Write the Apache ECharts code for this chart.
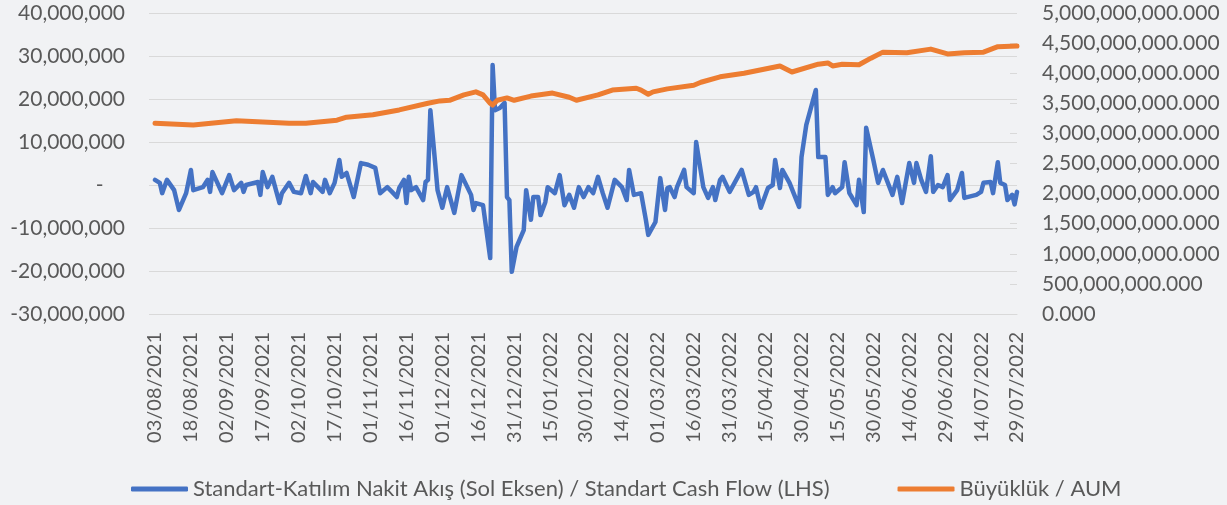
<!DOCTYPE html>
<html lang="tr">
<head>
    <meta charset="UTF-8">
    <title>Standart Nakit Akış / AUM</title>
    <style>
        html, body { margin: 0; padding: 0; background: #f1f2f4; }
    </style>
</head>
<body>

    <script src="https://cdn.jsdelivr.net/npm/echarts@6/dist/echarts.min.js"></script>

    <div id="main" style="width: 1227px;height:505px;"></div>

    <script>
        // eksen başlangıcı ve gün sayısı
        var startDate = new Date(2021, 7, 3);
        var dayCount = 361;

        // nakit akış: gün (başlangıçtan itibaren) ve değer (milyon)
        var flowDay = [0, 2, 3, 5, 8, 10, 13, 15, 16, 20, 22, 23, 24, 28, 31, 33, 36, 37, 38, 43, 44, 45, 47, 49, 52, 53, 56, 58,
            61, 63, 65, 66, 70, 71, 73, 75, 77, 78, 80, 83, 86, 89, 92, 94, 97, 99, 101, 102, 104, 105, 106, 107, 109, 112, 113, 114, 115, 117,
            118, 120, 122, 125, 128, 132, 133, 134, 137, 140, 141, 142, 144, 146, 147, 148, 149, 151, 154, 155, 157, 158, 160, 161, 163, 164, 167, 169, 171, 173, 175, 177,
            179, 181, 183, 185, 187, 189, 192, 195, 197, 198, 200, 203, 205, 206, 209, 211, 213, 214, 215, 217, 218, 221, 222, 225, 226, 229, 231, 233, 234, 236,
            237, 240, 245, 248, 250, 251, 253, 256, 258, 259, 261, 262, 265, 267, 269, 270, 272, 276, 277, 280, 281, 283, 284, 287, 288,
            290, 291, 293, 294, 296, 297, 300, 302, 304, 308, 310, 312, 315, 317, 318, 320, 322, 324, 325, 327, 329, 331, 332, 335, 337, 338,
            343, 345, 346, 349, 350, 352, 353, 355, 356, 358, 359, 360];
        var flowMillion = [1.2, 0.5, -1.9, 1.2, -1.2, -5.8, -1.9, 3.5, -1.2, -0.5, 1.2, -1.6, 3.0, -1.9, 2.3, -1.2, 0.5, -1.6, 0, 0.7, -2.3, 3.0, -0.5, 1.9, -4.2, -1.9, 0.5, -1.6,
            -1.9, 2.1, -1.9, 0.7, -1.6, 1.2, -1.9, 0.5, 5.8, 1.9, 2.8, -2.8, 5.1, 4.7, 4.0, -1.9, -0.5, -1.6, -2.8, -0.7, 1.2, -4.2, 1.9, -1.2, -0.5, -3.5, 0.7, 1.2, 17.4, 5.1,
            -1.2, -5.3, -0.5, -6.5, 2.3, -2.3, -5.8, -4.2, -4.7, -17.0, 27.9, 17.4, 17.9, 19.1, -2.8, -3.5, -20.2, -14.4, -10.5, -1.2, -8.1, -2.8, -2.8, -7.0, -4.0, -0.5, -1.9, 2.3, -4.7, -2.3, -5.3, -0.5,
            -2.8, -0.5, -1.9, 1.9, -1.9, -5.3, 1.2, -0.5, -3.5, 3.5, -2.3, -1.9, -8.1, -11.6, -8.6, 1.6, -5.8, -0.7, -0.5, -2.8, -0.5, 3.5, -0.5, -1.9, 10.0, -0.5, -3.0, -0.5, -3.5, 1.2,
            1.9, -1.6, 3.5, -2.3, -1.6, -0.5, -5.3, -0.7, 0, 5.8, -0.7, 3.5, 0.5, -2.3, -5.1, 6.5, 14.0, 22.1, 6.5, 6.5, -2.3, -0.5, -1.9, -0.5, 5.3,
            -1.9, -2.8, -4.7, 1.2, -6.3, 13.3, 5.8, 0.5, 3.5, -2.3, 1.9, -4.2, 5.1, 0.5, 5.1, 1.2, -1.6, 6.7, -1.6, 0, -0.5, 2.3, -3.5, -1.2, 2.8, -3.0,
            -2.3, -1.6, 0.5, 0.7, -1.9, 5.3, 0.5, 0, -3.5, -2.3, -4.5, -1.6];

        // büyüklük: gün ve değer (milyar)
        var aumDay = [0, 16, 34, 56, 63, 76, 80, 91, 102, 114, 119, 123, 129, 134, 137, 140, 141, 143, 147, 150, 157, 166, 173, 176,
            185, 191, 201, 203, 206, 208, 214, 225, 228, 236, 246, 261, 266, 277, 281, 283, 287, 294, 299, 304, 314, 324, 331, 338, 346, 352, 360];
        var aumBillion = [3.17, 3.14, 3.21, 3.17, 3.17, 3.22, 3.27, 3.31, 3.39, 3.50, 3.54, 3.55, 3.64, 3.69, 3.64, 3.50, 3.47, 3.55, 3.59, 3.55, 3.62, 3.67, 3.60, 3.55,
            3.64, 3.72, 3.75, 3.72, 3.65, 3.69, 3.74, 3.80, 3.85, 3.94, 4.00, 4.12, 4.02, 4.15, 4.17, 4.12, 4.15, 4.14, 4.25, 4.35, 4.34, 4.40, 4.32, 4.34, 4.35, 4.44, 4.45];

        var seriesNames = ['Standart-Katılım Nakit Akış (Sol Eksen) / Standart Cash Flow (LHS)', 'Büyüklük / AUM'];

        function pad(n) {
            return n < 10 ? '0' + n : '' + n;
        }

        // kategori ekseni: her takvim günü
        var dates = [];
        for (var i = 0; i < dayCount; i++) {
            var d = new Date(startDate.getFullYear(), startDate.getMonth(), startDate.getDate() + i);
            dates.push(pad(d.getDate()) + '/' + pad(d.getMonth() + 1) + '/' + d.getFullYear());
        }

        var flowData = [];
        for (var i = 0; i < flowDay.length; i++) {
            flowData.push([flowDay[i], flowMillion[i] * 1e6]);
        }
        var aumData = [];
        for (var i = 0; i < aumDay.length; i++) {
            aumData.push([aumDay[i], aumBillion[i] * 1e9]);
        }

        var font = 'Lato, "Open Sans", sans-serif';
        var textColor = '#595959';

        var myChart = echarts.init(document.getElementById('main'));

        var option = {
            backgroundColor: '#f1f2f4',
            animation: false,
            textStyle: { fontFamily: font },
            grid: {
                left: 155,
                right: 210,
                top: 13,
                bottom: 191
            },
            legend: {
                left: 126,
                top: 473,
                itemWidth: 57,
                itemHeight: 5,
                itemGap: 68,
                icon: 'roundRect',
                textStyle: { fontFamily: font, fontSize: 22, color: textColor },
                data: seriesNames
            },
            xAxis: {
                type: 'category',
                data: dates,
                boundaryGap: false,
                axisLine: { onZero: false, lineStyle: { color: '#d9d9d9', width: 1 } },
                axisTick: { show: false },
                axisLabel: {
                    interval: 14,
                    rotate: 90,
                    margin: 18,
                    fontSize: 20,
                    color: textColor,
                    fontFamily: font
                }
            },
            yAxis: [
                {
                    type: 'value',
                    min: -30000000,
                    max: 40000000,
                    interval: 10000000,
                    axisLine: { show: false },
                    axisTick: { show: true, length: 6, lineStyle: { color: '#d9d9d9' } },
                    splitLine: { lineStyle: { color: '#d9d9d9', width: 1 } },
                    axisLabel: {
                        margin: 30,
                        fontSize: 21,
                        color: textColor,
                        fontFamily: font,
                        formatter: function (v) {
                            return v === 0 ? '-    ' : v.toLocaleString('en-US');
                        }
                    }
                },
                {
                    type: 'value',
                    min: 0,
                    max: 5000000000,
                    interval: 500000000,
                    axisLine: { show: false },
                    axisTick: { show: true, inside: true, length: 7, lineStyle: { color: '#d9d9d9' } },
                    splitLine: { show: false },
                    axisLabel: {
                        margin: 25,
                        fontSize: 21,
                        color: textColor,
                        fontFamily: font,
                        formatter: function (v) {
                            return v.toLocaleString('en-US', { minimumFractionDigits: 3, maximumFractionDigits: 3 });
                        }
                    }
                }
            ],
            series: [
                {
                    name: seriesNames[0],
                    type: 'line',
                    yAxisIndex: 0,
                    data: flowData,
                    showSymbol: false,
                    symbol: 'none',
                    itemStyle: { color: '#4472c4' },
                    lineStyle: { color: '#4472c4', width: 4.5, join: 'round', cap: 'round' }
                },
                {
                    name: seriesNames[1],
                    type: 'line',
                    yAxisIndex: 1,
                    data: aumData,
                    showSymbol: false,
                    symbol: 'none',
                    itemStyle: { color: '#ed7d31' },
                    lineStyle: { color: '#ed7d31', width: 5, join: 'round', cap: 'round' }
                }
            ]
        };

        myChart.setOption(option);
    </script>

</body>
</html>
